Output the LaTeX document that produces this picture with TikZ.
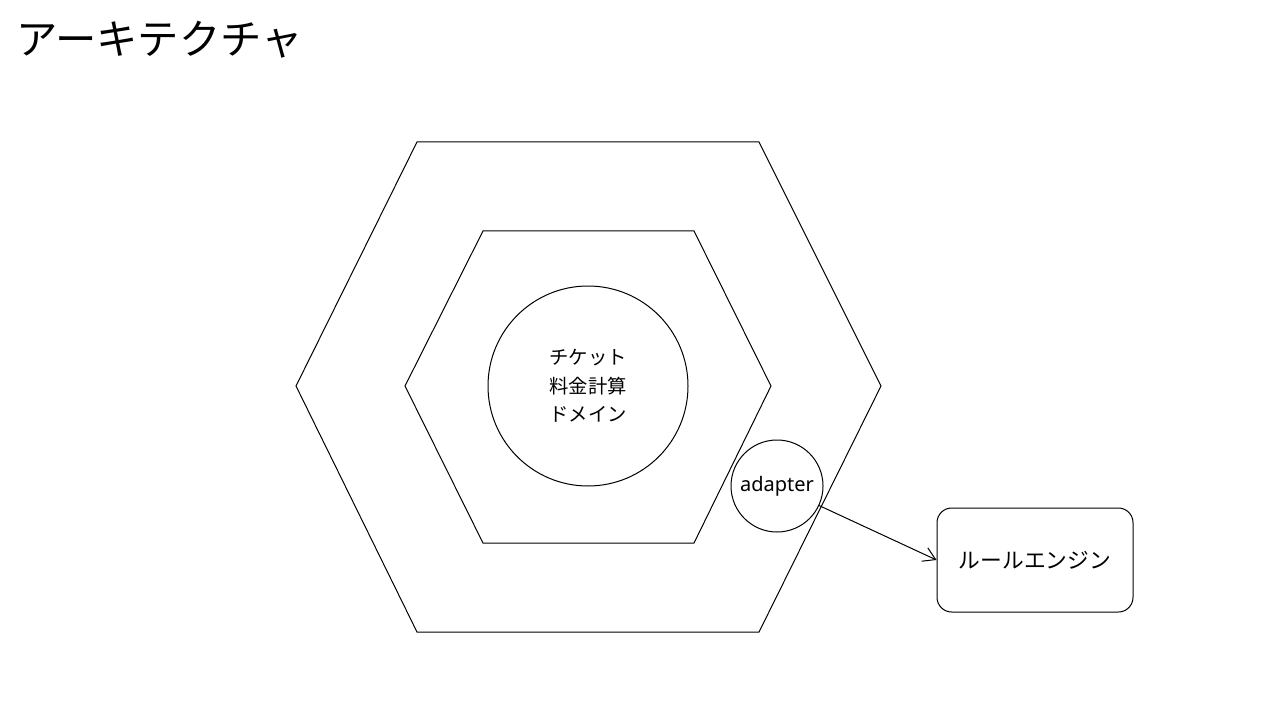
\documentclass[tikz,border=0pt]{standalone}
\usepackage{fontspec}
\setmainfont{Noto Sans CJK JP}
\newfontfamily\latinfont{Noto Sans}
\usetikzlibrary{arrows.meta}
\begin{document}
\begin{tikzpicture}[x=0.75pt,y=-0.75pt,
  shapeline/.style={draw=black,line width=0.75pt},
  conn/.style={draw=black,line width=0.75pt,-{Straight Barb[length=9pt,width=11pt]}}]
\useasboundingbox (0,0) rectangle (1280,720);
\node[anchor=west,inner sep=0pt,font=\fontsize{31}{36}\selectfont] (title) at (16,40) {アーキテクチャ};
% outer hexagon
\draw[shapeline] (417,142) -- (759,142) -- (881,386) -- (759,632) -- (417,632) -- (296,386) -- cycle;
% inner hexagon
\draw[shapeline] (483,231) -- (694,231) -- (771,386) -- (694,543) -- (483,543) -- (405,386) -- cycle;
\node[shapeline,circle,minimum size=150pt,inner sep=0pt,align=center,
  font=\fontsize{14.5}{21.5}\selectfont] (domain) at (588,386) {チケット\\料金計算\\ドメイン};
\node[shapeline,circle,fill=white,minimum size=69pt,inner sep=0pt,
  font=\latinfont\fontsize{15}{18}\selectfont] (adapter) at (777,486) {adapter};
\node[shapeline,rounded corners=11pt,minimum width=147pt,minimum height=78pt,inner sep=0pt,
  font=\fontsize{16.3}{20}\selectfont] (rule) at (1035,560) {ルールエンジン};
\draw[conn] (adapter) -- (rule.west);
\end{tikzpicture}
\end{document}
